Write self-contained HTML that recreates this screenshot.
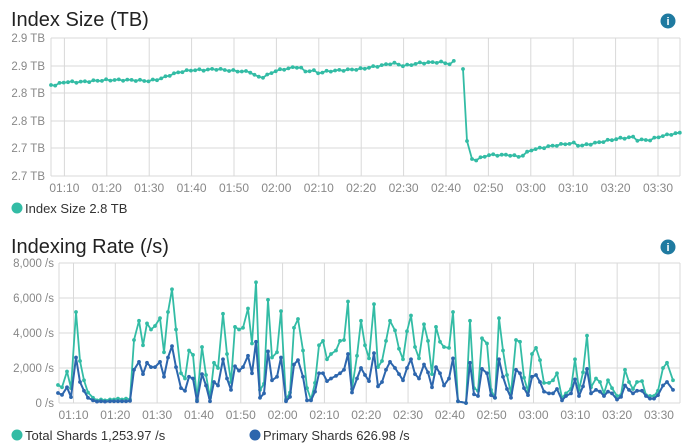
<!DOCTYPE html>
<html><head><meta charset="utf-8"><style>
body{margin:0;width:689px;height:448px;background:#fff;overflow:hidden;font-family:"Liberation Sans",sans-serif}
svg{display:block}
text{font-family:"Liberation Sans",sans-serif}
</style></head><body>
<svg id="s" width="689" height="448" xmlns="http://www.w3.org/2000/svg">
<text x="11" y="26" font-size="20" fill="#222">Index Size (TB)</text>
<text x="11" y="253" font-size="20" fill="#222">Indexing Rate (/s)</text>
<g fill="#1f7aa0"><circle cx="668" cy="21" r="7.5"/><circle cx="668" cy="247" r="7.5"/></g>
<g fill="#fff" font-size="11" font-weight="bold" text-anchor="middle"><text x="668" y="25">i</text><text x="668" y="251">i</text></g>
<g id="g"></g>
<circle cx="17" cy="208" r="5.5" fill="#33bca5"/>
<text x="25" y="213" font-size="13" fill="#333">Index Size 2.8 TB</text>
<circle cx="17" cy="435" r="5.5" fill="#33bca5"/>
<text x="25" y="440" font-size="13" fill="#333">Total Shards 1,253.97 /s</text>
<circle cx="255" cy="435" r="5.5" fill="#2d66ad"/>
<text x="263" y="440" font-size="13" fill="#333">Primary Shards 626.98 /s</text>
</svg>
<script>
var NS="http://www.w3.org/2000/svg",G=document.getElementById('g'),h='';
var xl=['01:10','01:20','01:30','01:40','01:50','02:00','02:10','02:20','02:30','02:40','02:50','03:00','03:10','03:20','03:30'];
// top grid
[38,66,93,121,148,176].forEach(function(y,i){h+='<line x1="51" x2="680" y1="'+y+'" y2="'+y+'" stroke="#d9d9d9"/>';
 h+='<text x="45" y="'+(y+4)+'" font-size="11.5" fill="#888" text-anchor="end">'+['2.9 TB','2.9 TB','2.8 TB','2.8 TB','2.7 TB','2.7 TB'][i]+'</text>';});
for(var i=0;i<15;i++){var x=64.4+i*42.4;h+='<line x1="'+x+'" x2="'+x+'" y1="38" y2="176" stroke="#d9d9d9"/>';
 h+='<text x="'+x+'" y="192" font-size="12" fill="#888" text-anchor="middle">'+xl[i]+'</text>';}
h+='<line x1="51" x2="51" y1="38" y2="176" stroke="#d9d9d9"/><line x1="680" x2="680" y1="38" y2="176" stroke="#d9d9d9"/>';
// bottom grid
[263,298,333,368,403].forEach(function(y,i){h+='<line x1="59" x2="680" y1="'+y+'" y2="'+y+'" stroke="#d9d9d9"/>';
 h+='<text x="54" y="'+(y+4)+'" font-size="11.5" fill="#888" text-anchor="end">'+['8,000 /s','6,000 /s','4,000 /s','2,000 /s','0 /s'][i]+'</text>';});
for(var i=0;i<15;i++){var x=73.5+i*41.82;h+='<line x1="'+x+'" x2="'+x+'" y1="263" y2="403" stroke="#d9d9d9"/>';
 h+='<text x="'+x+'" y="419" font-size="12" fill="#888" text-anchor="middle">'+xl[i]+'</text>';}
h+='<line x1="59" x2="59" y1="263" y2="403" stroke="#d9d9d9"/><line x1="680" x2="680" y1="263" y2="403" stroke="#d9d9d9"/>';
// top series keypoints (x,y)
var kp=[[51,85],[56,85],[64,82],[80,82],[107,80],[130,80],[149,81],[160,79],[170,75],[180,72],[192,70],[205,70],[215,69],[235,71],[252,72],[256,77],[264,77],[275,71],[285,69],[300,66.5],[304,72],[312,70],[318,73],[330,71],[361,69],[384,65],[393,63],[404,66],[420,63],[440,62],[450,64],[455,61]];
var kp2=[[463,69],[467,141],[472,159],[476,160],[488,155],[510,155],[520,157],[531,150],[551,146],[573,143],[580,146],[616,139],[633,137],[637,140],[650,140],[658,137],[672,134],[680,133]];
function interp(k,x){for(var i=0;i<k.length-1;i++){if(x>=k[i][0]&&x<=k[i+1][0]){var t=(x-k[i][0])/(k[i+1][0]-k[i][0]);return k[i][1]+t*(k[i+1][1]-k[i][1]);}}return k[k.length-1][1];}
function series(k,x0,x1){var p=[];var n=0;for(var x=x0;x<=x1+0.01;x+=4.24){var j=Math.sin(n*2.3)*0.8;p.push([x,interp(k,x)+j]);n++;}return p;}
var s1=series(kp,51,455);var s2=[[463,69],[467,141]].concat(series(kp2,472,680));
function draw(p,c,w,r){var d='';p.forEach(function(q,i){d+=(i?'L':'M')+q[0].toFixed(1)+' '+q[1].toFixed(1);});
 var o='<path d="'+d+'" fill="none" stroke="'+c+'" stroke-width="'+w+'" stroke-linejoin="round"/>';
 p.forEach(function(q){o+='<circle cx="'+q[0].toFixed(1)+'" cy="'+q[1].toFixed(1)+'" r="'+r+'" fill="'+c+'"/>';});return o;}
h+=draw(s1,'#33bca5',1.8,1.9)+draw(s2,'#33bca5',1.8,1.9);
// bottom data: x, green k, blue k
var d=[[58,1.03,.57],[62,.9,.46],[67,1.8,.9],[71,.85,.34],[76,5.2,2.6],[80,2.4,1.2],[84,1.3,.7],[88,.6,.3],[93,.3,.15],[97,.15,.08],[101,.2,.1],[105,.15,.08],[110,.2,.1],[114,.2,.1],[118,.25,.1],[122,.2,.1],[126,.25,.1],[130,.2,.12],
[134,3.6,1.9],[139,4.7,2.35],[143,3.3,1.65],[147,4.55,2.3],[151,4.2,2.05],[155,4.4,2.05],[160,4.85,2.35],[164,2.9,1.5],[168,5.2,2.6],[172,6.5,3.25],[176,4.2,2.05],[181,1.7,.85],[185,1.4,.7],[189,3,1.5],[193,2.75,1.4],[197,.2,.1],[202,3.2,1.65],[206,1.6,1],[210,.3,.1],[214,2.3,1.2],[218,2,1],[223,5.1,2.5],[227,2.8,1.4],[231,1.2,.75],[235,4.35,2.1],[239,4.2,1.85],[243,4.3,2.05],[248,5.4,2.7],[252,3.4,1.7],[256,6.9,3.5],[260,.75,.3],[264,1.1,.55],[268,5.9,2.95],
[272,2.6,1.3],[277,2.9,1.5],[281,5.25,2.6],[286,.2,.1],[290,.6,.35],[294,4.3,2.2],[298,4.8,2.45],[303,3,1.5],[307,.85,.15],[311,.2,.15],[315,1.15,.65],[319,3.3,1.7],[323,3.55,1.7],[327,2.5,1.25],[331,2.8,1.4],[336,3,1.55],[340,3.55,1.7],[344,3.6,1.9],[348,5.8,2.8],[352,.8,.6],[357,2.7,1.4],[361,4.7,2],[365,3.3,1.6],[369,2.55,1.25],[374,5.65,2.85],[378,2.05,.95],[382,2.4,1.2],[386,3.55,1.9],[390,4.7,2.35],[395,4.15,2],[399,3.1,1.65],[403,2.5,1.3],[407,4.1,2],[411,5,2.5],[415,3.2,1.65],[419,2.55,1.4],[424,4.5,2.2],[428,3.55,1.75],[432,1.65,.9],[436,4.35,2.05],[440,3.5,1.7],[444,3.2,1],[449,3.15,1.4],[453,5.2,2.55],[458,.1,.1],[466,0,0],
[470,4.7,2.3],[474,.85,.5],[478,.7,.4],[482,3.7,1.95],[487,3.4,1.7],[491,.75,.45],[495,.3,.3],[499,4.85,2.5],[503,3,1.5],[507,1.6,.8],[511,.55,.3],[516,3.6,1.9],[520,3.5,1.7],[524,1.45,.85],[528,.65,.45],[532,2.8,1.5],[536,3.15,1.6],[540,2.45,1.2],[544,1.15,.65],[549,1.15,.55],[553,1.3,.55],[557,1.7,.8],[562,.3,.15],[566,.55,.4],[571,.8,.55],[575,2.5,1.35],[579,.75,.4],[583,1.75,.95],[587,3.85,1.95],[591,.9,.55],[596,1.4,.75],[600,1.2,.65],[604,.55,.4],[608,1.3,.65],[612,.85,.55],[617,.4,.2],[621,.45,.35],[625,1.9,1],[629,1.2,.75],[633,.8,.55],[637,1.2,.7],[642,1.25,.7],[646,.45,.4],[650,.4,.25],[654,.4,.25],[658,.7,.45],[663,2,1],[667,2.3,1.2],[673,1.3,.75]];
function py(v){return 403-v*17.5;}
var g1=d.map(function(q){return [q[0],py(q[1])];}),b1=d.map(function(q){return [q[0],py(q[2])];});
h+=draw(g1,'#33bca5',1.8,1.9)+draw(b1,'#2d66ad',2,1.9);
G.innerHTML=h;
</script>
</body></html>
